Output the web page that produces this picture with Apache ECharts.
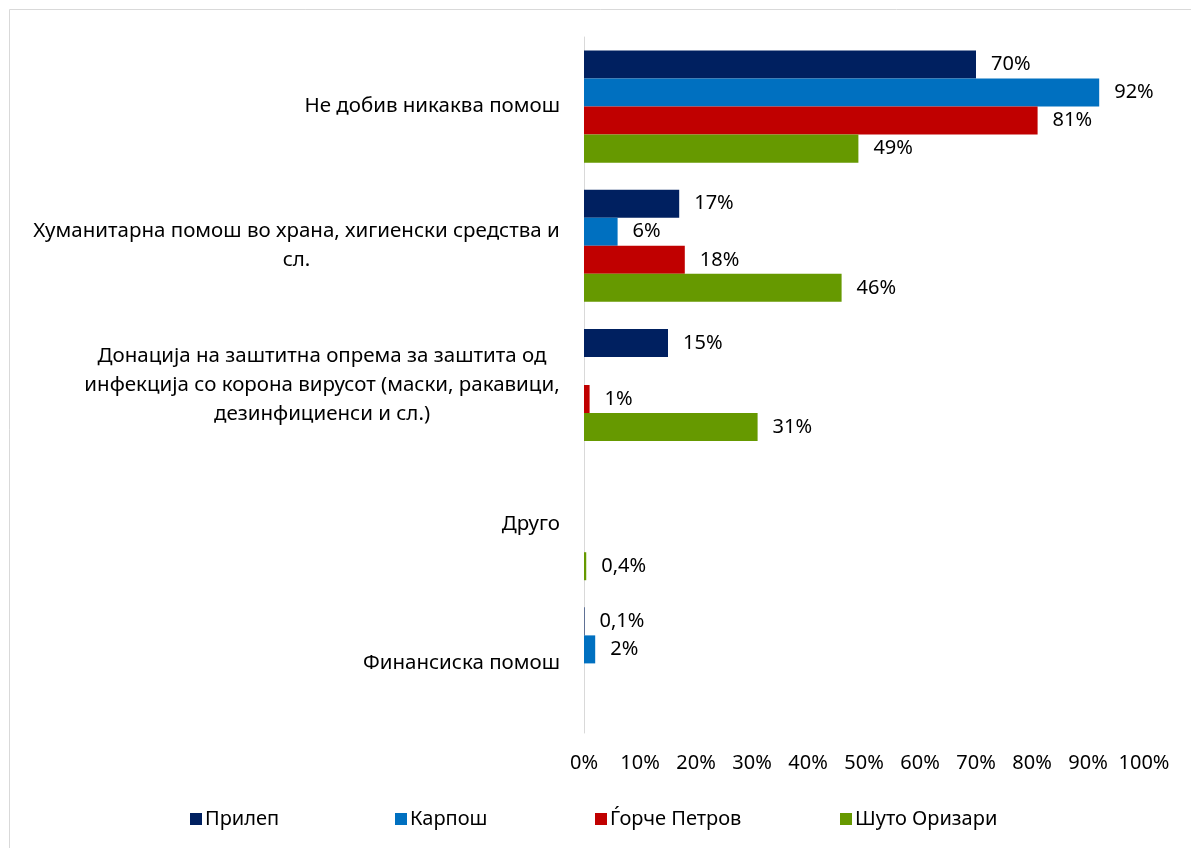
<!DOCTYPE html>
<html><head><meta charset="utf-8">
<script src="https://cdn.jsdelivr.net/npm/echarts@6/dist/echarts.min.js"></script>
<style>html,body{margin:0;padding:0;background:#fff}#c{width:1191px;height:848px}</style>
</head><body><div id="c"></div>
<script>
const categories = [
  'Не добив никаква помош',
  'Хуманитарна помош во храна, хигиенски средства и\nсл.',
  'Донација на заштитна опрема за заштита од\nинфекција со корона вирусот (маски, ракавици,\nдезинфициенси и сл.)',
  'Друго',
  'Финансиска помош'
];
const seriesNames = ['Прилеп', 'Карпош', 'Ѓорче Петров', 'Шуто Оризари'];
const prilep  = [70, 17, 15, null, 0.1];
const karposh = [92, 6, null, null, 2];
const gjorche = [81, 18, 1, null, null];
const shuto   = [49, 46, 31, 0.4, null];
const colors = ['#002060', '#0070C0', '#C00000', '#669900'];
const axisMin = 0, axisMax = 100, axisStep = 10;

const FONT = 'Noto Sans';
const FS = 20;      // numbers / legend
const FC = 20.5;    // category labels
const ctx = document.createElement('canvas').getContext('2d');
ctx.font = FC + 'px "' + FONT + '"';
const rich = {};
categories.forEach((c, i) => {
  const lines = c.split('\n');
  const w = Math.max(...lines.map(l => ctx.measureText(l).width));
  rich['w' + i] = { width: Math.ceil(w), align: 'center', fontSize: FC, fontFamily: FONT, color: '#000', lineHeight: 29 };
});

function fmtVal(v) {
  return String(v).replace('.', ',') + '%';
}

const allData = [prilep, karposh, gjorche, shuto];
const series = seriesNames.map((n, i) => ({
  name: n,
  type: 'bar',
  data: allData[i],
  barGap: '0%',
  barCategoryGap: '19.5%',
  itemStyle: { color: colors[i] },
  label: {
    show: true, position: 'right', distance: 15,
    fontFamily: FONT, fontSize: FS, color: '#000',
    formatter: p => p.value == null ? '' : fmtVal(p.value)
  }
}));

const legendX = [185, 390, 590, 835];
const legends = seriesNames.map((n, i) => ({
  data: [n], left: legendX[i], top: 804,
  itemWidth: 12, itemHeight: 12, itemGap: 0,
  icon: 'rect',
  textStyle: { fontFamily: FONT, fontSize: FS, color: '#000', padding: [0, 0, 0, -2] }
}));

const chart = echarts.init(document.getElementById('c'), null, { renderer: 'canvas' });
chart.setOption({
  animation: false,
  backgroundColor: '#fff',
  color: colors,
  graphic: [{
    type: 'rect', left: 7, top: 7,
    shape: { width: 1300, height: 1000 },
    style: { fill: 'none', stroke: '#D9D9D9', lineWidth: 1 },
    silent: true
  }],
  legend: legends,
  grid: { left: 584, right: 47, top: 37, bottom: 115, containLabel: false },
  xAxis: {
    type: 'value', min: axisMin, max: axisMax, interval: axisStep,
    axisLine: { show: false }, axisTick: { show: false },
    splitLine: { show: false },
    axisLabel: { formatter: '{value}%', fontFamily: FONT, fontSize: FS, color: '#000', margin: 20 }
  },
  yAxis: {
    type: 'category', inverse: true, data: categories,
    axisLine: { show: true, lineStyle: { color: '#D9D9D9', width: 1 } },
    axisTick: { show: false },
    axisLabel: {
      margin: 24, fontFamily: FONT, fontSize: FC, color: '#000', align: 'right',
      lineHeight: 29,
      formatter: (val, idx) => {
        const lines = val.split('\n');
        if (lines.length === 1) return val;
        return lines.map(l => '{w' + idx + '|' + l + '}').join('\n');
      },
      rich: rich
    }
  },
  series: series
});
</script>
</body></html>
